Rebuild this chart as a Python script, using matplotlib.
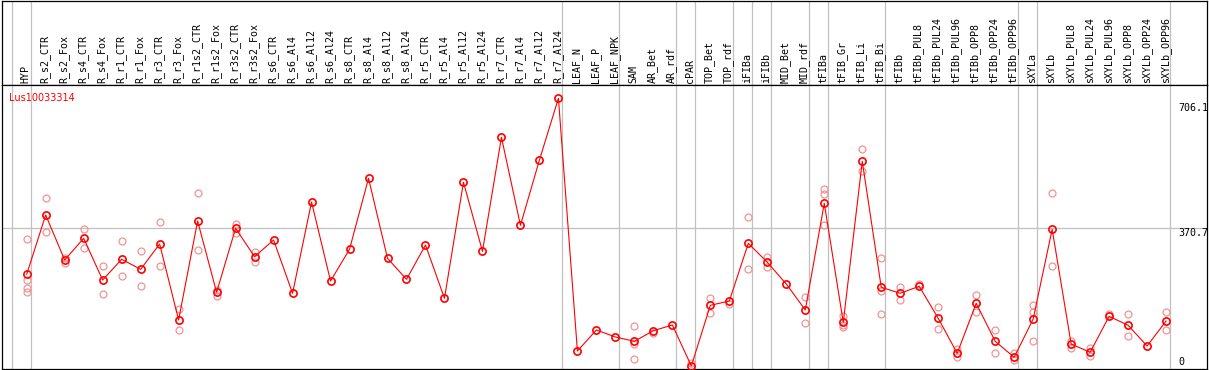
import matplotlib
matplotlib.use("Agg")
import matplotlib.pyplot as plt

# ---------------- data ----------------
gene = "Lus10033314"
categories = ["HYP",
    "R_s2_CTR", "R_s2_Fox", "R_s4_CTR", "R_s4_Fox", "R_r1_CTR", "R_r1_Fox",
    "R_r3_CTR", "R_r3_Fox", "R_r1s2_CTR", "R_r1s2_Fox", "R_r3s2_CTR", "R_r3s2_Fox",
    "R_s6_CTR", "R_s6_Al4", "R_s6_Al12", "R_s6_Al24",
    "R_s8_CTR", "R_s8_Al4", "R_s8_Al12", "R_s8_Al24",
    "R_r5_CTR", "R_r5_Al4", "R_r5_Al12", "R_r5_Al24",
    "R_r7_CTR", "R_r7_Al4", "R_r7_Al12", "R_r7_Al24",
    "LEAF_N", "LEAF_P", "LEAF_NPK", "SAM", "AR_Bet", "AR_rdf", "cPAR",
    "TOP_Bet", "TOP_rdf", "iFIBa", "iFIBb", "MID_Bet", "MID_rdf",
    "tFIBa", "tFIB_Gr", "tFIB_Li", "tFIB_Bi", "tFIBb",
    "tFIBb_PUL8", "tFIBb_PUL24", "tFIBb_PUL96", "tFIBb_OPP8", "tFIBb_OPP24", "tFIBb_OPP96",
    "sXYLa", "sXYLb",
    "sXYLb_PUL8", "sXYLb_PUL24", "sXYLb_PUL96", "sXYLb_OPP8", "sXYLb_OPP24", "sXYLb_OPP96"]

means = [247.8, 406.1, 286.0, 343.9, 232.6, 287.9, 261.1, 328.7, 125.8, 390.1,
         199.7, 370.6, 294.8, 339.4, 197.1, 440.9, 229.9, 314.6, 504.1, 290.5,
         234.4, 326.0, 183.7, 493.5, 309.2, 613.6, 378.6, 553.0, 717.8, 43.0,
         99.1, 80.4, 68.9, 97.2, 112.4, 2.9, 165.0, 176.5, 330.6, 279.8,
         221.9, 152.5, 437.4, 119.6, 549.5, 213.1, 197.1, 215.8, 130.3, 36.8,
         170.4, 68.9, 26.2, 128.4, 368.0, 61.7, 39.5, 135.6, 111.6, 56.3, 123.1]

replicates = [
    [341.3, 232.6, 210.4, 199.7], [450.7, 361.6], [290.5, 278.8], [368.0, 317.2],
    [269.2, 194.4], [336.7, 242.5], [310.0, 215.8], [387.4, 269.2], [155.1, 98.3],
    [464.1, 312.7], [205.9, 189.9], [382.9, 358.9], [306.5, 281.4], [],
    [], [], [], [], [], [], [], [], [], [], [], [], [], [], [],
    [], [], [], [108.9, 61.7, 20.8], [90.3], [], [10.1],
    [183.7, 143.7], [169.3], [400.8, 261.1], [294.8, 266.5], [], [187.2, 117.8],
    [476.4, 462.2, 378.6], [137.2, 112.4, 107.1], [581.6, 524.4], [290.5, 204.0, 141.0],
    [213.1, 178.4], [221.9], [161.3, 101.7], [47.5, 26.2], [192.5, 146.3],
    [98.3, 36.8], [36.8, 19.0], [165.0, 146.3, 68.9], [464.1, 270.0],
    [70.5, 51.8], [50.2, 29.6], [141.8], [141.8, 83.8], [], [146.3, 99.1]]

# group separators drawn after these category indices
separators_after = [-1, 0, 28, 31, 34, 35, 37, 38, 39, 41, 42, 45, 52, 53, 60]
ytick_values = [706.1, 370.7, 0]
ytick_labels = ["706.1", "370.7", "0"]

# ---------------- layout ----------------
W, H = 1209, 370
fig = plt.figure(figsize=(W / 100, H / 100), dpi=100)

x0_px, dx_px = 26.7, 18.99
ax_left_px, ax_right_px = 1.5, 1207.0
xlim = ((ax_left_px - x0_px) / dx_px, (ax_right_px - x0_px) / dx_px)

head_top_px, head_bot_px, plot_bot_px = 0.5, 85.0, 368.5
left_f = ax_left_px / W
width_f = (ax_right_px - ax_left_px) / W

ax_h = fig.add_axes([left_f, 1 - head_bot_px / H, width_f, (head_bot_px - head_top_px) / H])
ax = fig.add_axes([left_f, 1 - plot_bot_px / H, width_f, (plot_bot_px - head_bot_px) / H])

# y scale: 370.7 at px 228.3, 0 at px 367.1
ppu = 0.3745
zero_px = 367.1
ylim = ((zero_px - plot_bot_px) / ppu, (zero_px - head_bot_px) / ppu)

grey = "#c0c0c0"
for a in (ax, ax_h):
    a.set_xlim(*xlim)
    a.set_xticks([])
    a.set_yticks([])
    for s in a.spines.values():
        s.set_color("black")
        s.set_linewidth(0.9)
    for idx in separators_after:
        a.axvline(idx + 4 / dx_px, color=grey, lw=0.9, zorder=0)

ax.set_ylim(*ylim)
ax_h.set_ylim(0, 1)
ax.axhline(370.7, color=grey, lw=0.9, zorder=0)

mono = "DejaVu Sans Mono"
xs = list(range(len(categories)))
label_bottom = (head_bot_px - 82.7) / (head_bot_px - head_top_px)
for i, lab in enumerate(categories):
    ax_h.text(i - 0.05, label_bottom, lab, rotation=90, ha="center", va="bottom",
              family=mono, fontsize=7.2, color="black")

# replicates
rx, ry = [], []
for i, reps in enumerate(replicates):
    for v in reps:
        rx.append(i)
        ry.append(v)
ax.plot(rx, ry, linestyle="none", marker="o", ms=5, mfc="none", mec="#f09494",
        mew=0.9, zorder=2)

# mean line
ax.plot(xs, means, color="#ff0000", lw=0.8, zorder=3)
ax.plot(xs, means, linestyle="none", marker="o", ms=5.2, mfc="none", mec="#ff0000",
        mew=1.2, zorder=4)

# right-side value labels
xt = (1178.7 - x0_px) / dx_px
for v, lab in zip(ytick_values, ytick_labels):
    ax.text(xt, v, lab, ha="left", va="bottom" if v == 0 else "top",
            family=mono, fontsize=7.2, color="black", zorder=5,
            clip_on=False)

ax.text((9.3 - x0_px) / dx_px, (zero_px - 93.3) / ppu, gene, ha="left", va="top",
        fontsize=7, color="#ff0000", family="DejaVu Sans")

fig.savefig("out.png", dpi=100)
